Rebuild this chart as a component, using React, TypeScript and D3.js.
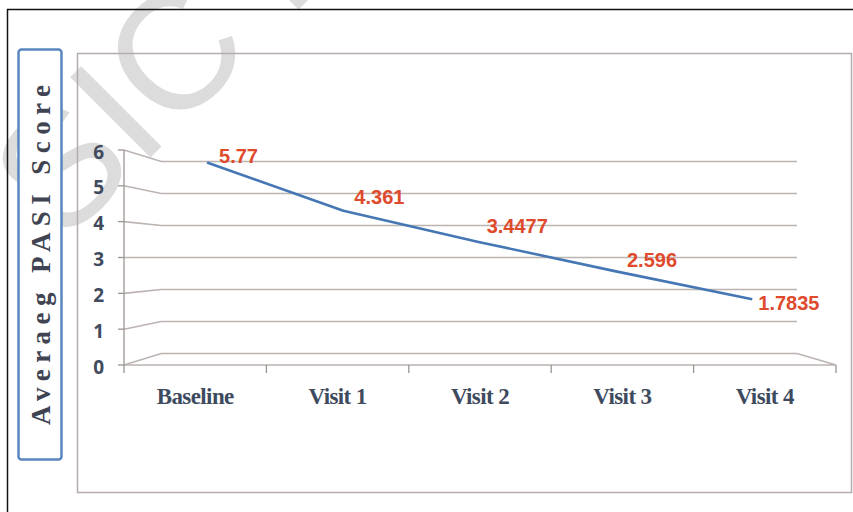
import React, { useRef, useEffect } from "react";
import * as d3 from "d3";

// chart data
const visits = ["Baseline", "Visit 1", "Visit 2", "Visit 3", "Visit 4"];
const pasiScores = [5.77, 4.361, 3.4477, 2.596, 1.7835];
const scoreLabels = ["5.77", "4.361", "3.4477", "2.596", "1.7835"];
const yTicks = [0, 1, 2, 3, 4, 5, 6];

// manual label nudges (Excel dragged labels), relative to the point
const labelDx = [12, 11, 7, 11, 6];
const labelDy = [1, -7, -9, -4, 11];

const PasiChart = () => {
  const svgRef = useRef<SVGSVGElement | null>(null);

  useEffect(() => {
    const svg = d3.select(svgRef.current);
    svg.selectAll("*").remove();

    // faint watermark behind everything
    svg
      .append("text")
      .attr("transform", "translate(62,246) rotate(-45)")
      .attr("font-family", "Liberation Sans, Arial, sans-serif")
      .attr("font-size", 165)
      .attr("fill", "#dcdcdc")
      .text("SIC E");

    // outer black frame
    svg
      .append("rect")
      .attr("x", 7.5)
      .attr("y", 9.5)
      .attr("width", 900)
      .attr("height", 600)
      .attr("fill", "none")
      .attr("stroke", "#111")
      .attr("stroke-width", 1.5);

    // plot area box
    svg
      .append("rect")
      .attr("x", 77.5)
      .attr("y", 53.5)
      .attr("width", 774)
      .attr("height", 439)
      .attr("fill", "none")
      .attr("stroke", "#b3acaa")
      .attr("stroke-width", 1.5);

    // y title box
    svg
      .append("rect")
      .attr("x", 18.5)
      .attr("y", 49.5)
      .attr("width", 43)
      .attr("height", 410)
      .attr("rx", 3)
      .attr("fill", "#fff")
      .attr("stroke", "#5a86c0")
      .attr("stroke-width", 2.5);

    svg
      .append("text")
      .attr("transform", "translate(50,255) rotate(-90)")
      .attr("text-anchor", "middle")
      .attr("font-family", "Liberation Serif, Times New Roman, serif")
      .attr("font-weight", "bold")
      .attr("font-size", 27)
      .attr("fill", "#404452")
      .attr("textLength", 340)
      .attr("lengthAdjust", "spacing")
      .text("Averaeg PASI Score");

    // front face scales
    const x0 = 124;
    const x1 = 836;
    const xScale = d3.scaleBand().domain(visits).range([x0, x1]);
    const yScale = d3.scaleLinear().domain([0, 6]).range([365, 150]);

    // simple perspective: t = 0 front, t = 1 back wall
    const cx = 472;
    const cy = 257.5;
    const k = 0.893;
    const proj = (xf: number, yf: number, t: number): [number, number] => {
      const s = 1 - t * (1 - k);
      return [cx + (xf - cx) * s, cy + (yf - cy) * s];
    };

    const grid = "#bbb4b1";
    const lineGen = d3.line();

    // gridlines: side wall diagonal + back wall horizontal
    svg
      .append("g")
      .selectAll("path")
      .data(yTicks)
      .join("path")
      .attr("d", (v) =>
        lineGen([
          [x0, yScale(v)],
          proj(x0, yScale(v), 1),
          proj(x1, yScale(v), 1),
        ])
      )
      .attr("fill", "none")
      .attr("stroke", grid)
      .attr("stroke-width", 1.6);

    // floor front edge and right side
    svg
      .append("path")
      .attr(
        "d",
        lineGen([proj(x1, yScale(0), 1), [x1, yScale(0)], [x0, yScale(0)]])
      )
      .attr("fill", "none")
      .attr("stroke", grid)
      .attr("stroke-width", 1.6);

    // y axis line + ticks
    const axisG = svg.append("g");
    axisG
      .append("line")
      .attr("x1", x0)
      .attr("x2", x0)
      .attr("y1", yScale(6))
      .attr("y2", yScale(0))
      .attr("stroke", "#9c9592")
      .attr("stroke-width", 1.3);
    axisG
      .selectAll("line.tick")
      .data(yTicks)
      .join("line")
      .attr("class", "tick")
      .attr("x1", x0 - 6)
      .attr("x2", x0)
      .attr("y1", (v) => yScale(v))
      .attr("y2", (v) => yScale(v))
      .attr("stroke", "#9c9592")
      .attr("stroke-width", 1.3);
    axisG
      .selectAll("text")
      .data(yTicks)
      .join("text")
      .attr("x", 104)
      .attr("y", (v) => yScale(v) + 2)
      .attr("dy", "0.35em")
      .attr("text-anchor", "end")
      .attr("font-family", "Open Sans, Liberation Sans, sans-serif")
      .attr("font-weight", "bold")
      .attr("font-size", 19)
      .attr("fill", "#414b5d")
      .text((v) => String(v));

    // x ticks at category boundaries
    const bw = xScale.bandwidth();
    const bounds = d3.range(visits.length + 1).map((i) => x0 + i * bw);
    svg
      .append("g")
      .selectAll("line")
      .data(bounds)
      .join("line")
      .attr("x1", (d) => d)
      .attr("x2", (d) => d)
      .attr("y1", yScale(0))
      .attr("y2", yScale(0) + 8)
      .attr("stroke", "#9c9592")
      .attr("stroke-width", 1.3);

    // category labels
    svg
      .append("g")
      .selectAll("text")
      .data(visits)
      .join("text")
      .attr("x", (d) => (xScale(d) as number) + bw / 2)
      .attr("y", 404)
      .attr("text-anchor", "middle")
      .attr("font-family", "Liberation Serif, Times New Roman, serif")
      .attr("font-weight", "bold")
      .attr("font-size", 23)
      .attr("letter-spacing", -0.6)
      .attr("fill", "#3e4a5e")
      .text((d) => d);

    // the series line, drawn at mid depth
    const depth = 0.4;
    const pts = visits.map((d, i) =>
      proj((xScale(d) as number) + bw / 2, yScale(pasiScores[i]), depth)
    );
    svg
      .append("path")
      .attr("d", lineGen(pts))
      .attr("fill", "none")
      .attr("stroke", "#4677b5")
      .attr("stroke-width", 2.6)
      .attr("stroke-linejoin", "round");

    // data labels
    svg
      .append("g")
      .selectAll("text")
      .data(scoreLabels)
      .join("text")
      .attr("x", (d, i) => pts[i][0] + labelDx[i])
      .attr("y", (d, i) => pts[i][1] + labelDy[i])
      .attr("font-family", "Liberation Sans, Arial, sans-serif")
      .attr("font-weight", "bold")
      .attr("font-size", 20)
      .attr("fill", "#e04a2c")
      .text((d) => d);
  }, []);

  return (
    <svg
      ref={svgRef}
      width={853}
      height={512}
      style={{ position: "absolute", left: 0, top: 0, background: "#fff" }}
    />
  );
};

const App = () => {
  return <PasiChart />;
};

export default App;
